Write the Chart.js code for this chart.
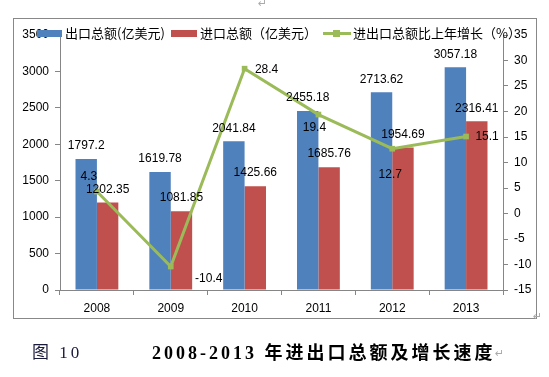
<!DOCTYPE html>
<html>
<head>
<meta charset="utf-8">
<script src="https://cdn.jsdelivr.net/npm/chart.js@4.4.1/dist/chart.umd.min.js"></script>
<style>
  body { margin: 0; background: #fff; }
  #wrap { position: relative; width: 549px; height: 377px; overflow: hidden; }
  #wrap canvas { position: absolute; left: 0; top: 0; }
  .frame { position: absolute; left: 13px; top: 18px; width: 522px; height: 299px; border: 1px solid #888; }
  .lg { position: absolute; top: 26px; height: 14px; font: 13px "Noto Sans CJK SC", sans-serif; color: #000; line-height: 14px; white-space: nowrap; }
  .sw { position: absolute; top: 30px; height: 7px; }
  .mark { position: absolute; font: 11px "DejaVu Sans", sans-serif; color: #aaa; }
  .cap { position: absolute; top: 338px; font-family: "Liberation Serif", "Noto Sans CJK SC", serif; color: #000; white-space: nowrap; }
</style>
</head>
<body>
<div id="wrap">
  <div class="frame"></div>
  <canvas id="c" width="549" height="377"></canvas>

  <div class="sw" style="left:37px; width:25px; background:#4F81BD;"></div>
  <div class="lg" style="left:65px;">出口总额(亿美元)</div>
  <div class="sw" style="left:171px; width:26px; background:#C0504D;"></div>
  <div class="lg" style="left:200px;">进口总额（亿美元）</div>
  <div class="sw" style="left:323px; top:32px; width:28px; height:3px; background:#9BBB59;"></div>
  <div class="sw" style="left:333px; top:30px; width:7px; height:7px; background:#9BBB59;"></div>
  <div class="lg" style="left:353px;">进出口总额比上年增长（%）</div>

  <div class="mark" style="left:258px; top:-3px;">↵</div>
  <div class="mark" style="left:533px; top:310px;">↵</div>

  <div class="cap" style="left:32px; font-size:17px; color:#1a1a3a; letter-spacing:3px;">图 10</div>
  <div class="cap" style="left:152px; font-size:18px; font-weight:bold; letter-spacing:3px;">2008-2013 年进出口总额及增长速度</div>
  <div class="mark" style="left:495px; top:347px;">↵</div>
</div>
<script>
const years = ['2008', '2009', '2010', '2011', '2012', '2013'];
const exportTotal = [1797.2, 1619.78, 2041.84, 2455.18, 2713.62, 3057.18];
const importTotal = [1202.35, 1081.85, 1425.66, 1685.76, 1954.69, 2316.41];
const growthRate = [4.3, -10.4, 28.4, 19.4, 12.7, 15.1];
const leftTicks = [0, 500, 1000, 1500, 2000, 2500, 3000, 3500];
const rightTicks = [-15, -10, -5, 0, 5, 10, 15, 20, 25, 30, 35];

// where each growth label sits relative to its point (Excel placed them by hand)
const growthLabelShift = [[-8, -15], [38, 12], [22, 1], [-4, 13], [-2, 26], [21, 0]];

const axisColor = '#868686';
const tickFont = { family: 'Liberation Sans', size: 12 };

const valueLabels = {
  id: 'valueLabels',
  afterDatasetsDraw(chart) {
    const ctx = chart.ctx;
    ctx.save();
    ctx.font = '12px "Liberation Sans"';
    ctx.fillStyle = '#000';
    ctx.textAlign = 'center';
    ctx.textBaseline = 'middle';
    chart.data.datasets.forEach((ds, i) => {
      const meta = chart.getDatasetMeta(i);
      meta.data.forEach((el, j) => {
        const v = ds.data[j];
        if (ds.type === 'line') {
          const s = growthLabelShift[j];
          ctx.fillText(String(v), el.x + s[0], el.y + s[1]);
        } else {
          ctx.fillText(String(v), el.x, el.y - 13);
        }
      });
    });
    ctx.restore();
  }
};

new Chart(document.getElementById('c'), {
  data: {
    labels: years,
    datasets: [
      {
        type: 'line',
        label: '进出口总额比上年增长（%）',
        data: growthRate,
        yAxisID: 'y1',
        borderColor: '#9BBB59',
        backgroundColor: '#9BBB59',
        borderWidth: 3,
        pointStyle: 'rect',
        pointRadius: 4,
        pointBorderWidth: 0,
        tension: 0,
        order: 0
      },
      {
        type: 'bar',
        label: '出口总额(亿美元)',
        data: exportTotal,
        yAxisID: 'y',
        backgroundColor: '#4F81BD',
        categoryPercentage: 0.58,
        barPercentage: 1,
        order: 1
      },
      {
        type: 'bar',
        label: '进口总额（亿美元）',
        data: importTotal,
        yAxisID: 'y',
        backgroundColor: '#C0504D',
        categoryPercentage: 0.58,
        barPercentage: 1,
        order: 2
      }
    ]
  },
  options: {
    responsive: false,
    animation: false,
    layout: { padding: { top: 35, left: 0, right: 0, bottom: 0 } },
    plugins: { legend: { display: false }, tooltip: { enabled: false } },
    scales: {
      x: {
        afterFit: s => { s.height = 87; },
        grid: { offset: true, drawOnChartArea: false, drawTicks: true, tickLength: 5, color: axisColor },
        border: { display: true, color: axisColor },
        ticks: { font: tickFont, color: '#000', padding: 6 }
      },
      y: {
        position: 'left',
        min: 0, max: 3500,
        afterFit: s => { s.width = 60; },
        afterBuildTicks: s => { s.ticks = leftTicks.map(v => ({ value: v })); },
        grid: { drawOnChartArea: false, drawTicks: true, tickLength: 5, color: axisColor },
        border: { display: true, color: axisColor },
        ticks: { font: tickFont, color: '#000', padding: 6, callback: v => String(v) }
      },
      y1: {
        position: 'right',
        min: -15, max: 35,
        afterFit: s => { s.width = 46; },
        afterBuildTicks: s => { s.ticks = rightTicks.map(v => ({ value: v })); },
        grid: { drawOnChartArea: false, drawTicks: true, tickLength: 5, color: axisColor },
        border: { display: true, color: axisColor },
        ticks: { font: tickFont, color: '#000', padding: 6, callback: v => String(v) }
      }
    }
  },
  plugins: [valueLabels]
});
</script>
</body>
</html>
